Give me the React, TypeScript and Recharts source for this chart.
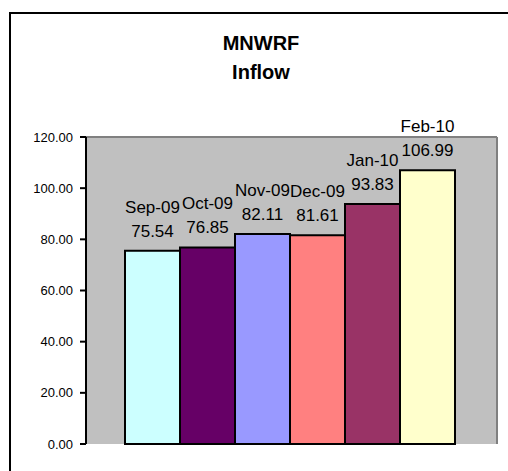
import { BarChart, Bar, XAxis, YAxis, CartesianGrid, Cell, LabelList } from "recharts";

const months = ["Sep-09", "Oct-09", "Nov-09", "Dec-09", "Jan-10", "Feb-10"];
const inflow = [75.54, 76.85, 82.11, 81.61, 93.83, 106.99];
const barColors = ["#CCFFFF", "#660066", "#9999FF", "#FF8080", "#993366", "#FFFFCC"];
const yTicks = [0, 20, 40, 60, 80, 100, 120];

const data = months.map((m, i) => ({ month: m, value: inflow[i] }));

const FONT = "'Liberation Sans', Arial, sans-serif";
const FRAME = { stroke: "#808080", strokeWidth: 2 };

function TwoLineLabel(props: any) {
  const { x, y, width, index, value } = props;
  const cx = x + width / 2;
  return (
    <g>
      <text x={cx} y={y - 38} textAnchor="middle" fontSize={17} fill="#000" fontFamily={FONT}>
        {months[index]}
      </text>
      <text x={cx} y={y - 14} textAnchor="middle" fontSize={17} fill="#000" fontFamily={FONT}>
        {Number(value).toFixed(2)}
      </text>
    </g>
  );
}

export default function App() {
  return (
    <div style={{ position: "absolute", left: 0, top: 0, width: 508, height: 471, background: "#fff", overflow: "hidden", fontFamily: FONT }}>
      <div
        style={{
          position: "absolute",
          left: 9,
          top: 12,
          width: 600,
          height: 600,
          borderLeft: "2px solid #000",
          borderTop: "2px solid #000",
        }}
      />
      <div
        style={{
          position: "absolute",
          left: 10,
          top: 29,
          width: 502,
          textAlign: "center",
          fontSize: 20,
          lineHeight: "29px",
          fontWeight: "bold",
          color: "#000",
        }}
      >
        MNWRF
        <br />
        Inflow
      </div>
      <div style={{ position: "absolute", left: 0, top: 0 }}>
        <BarChart
          width={508}
          height={471}
          data={data}
          margin={{ top: 136, right: 10, bottom: 27, left: 0 }}
          barCategoryGap={0}
        >
          <CartesianGrid fill="#C0C0C0" fillOpacity={1} horizontal={false} vertical={false} />
          <XAxis
            dataKey="month"
            height={0}
            tick={false}
            tickLine={false}
            axisLine={FRAME}
            padding={{ left: 39, right: 42 }}
          />
          <XAxis
            xAxisId="top"
            orientation="top"
            type="number"
            domain={[0, 1]}
            height={1}
            tick={false}
            tickLine={false}
            axisLine={FRAME}
          />
          <YAxis
            domain={[0, 120]}
            ticks={yTicks}
            width={86}
            tickSize={6}
            tickMargin={7}
            tickFormatter={(v: number) => v.toFixed(2)}
            tick={{ fill: "#000", fontSize: 13, fontFamily: FONT }}
            tickLine={{ stroke: "#000", strokeWidth: 2 }}
            axisLine={{ stroke: "#000", strokeWidth: 2 }}
          />
          <YAxis
            yAxisId="right"
            orientation="right"
            domain={[0, 120]}
            width={1}
            tick={false}
            tickLine={false}
            axisLine={FRAME}
          />
          <Bar dataKey="value" stroke="#000" strokeWidth={2} isAnimationActive={false}>
            {data.map((d, i) => (
              <Cell key={d.month} fill={barColors[i]} />
            ))}
            <LabelList dataKey="value" content={TwoLineLabel} />
          </Bar>
        </BarChart>
      </div>
    </div>
  );
}
